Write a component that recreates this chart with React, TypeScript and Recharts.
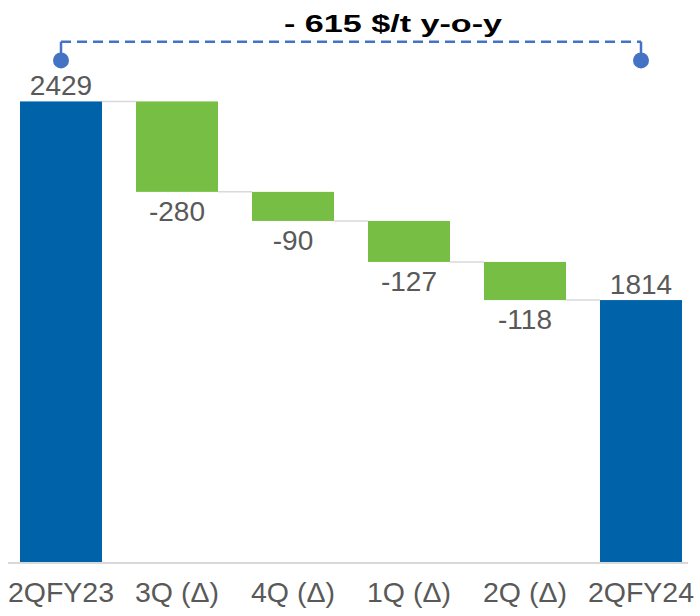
import React from 'react';
import { ComposedChart, Bar, XAxis, YAxis, Cell, LabelList, ReferenceLine, ReferenceDot } from 'recharts';

const categories = ['2QFY23', '3Q (Δ)', '4Q (Δ)', '1Q (Δ)', '2Q (Δ)', '2QFY24'];
const values = [2429, -280, -90, -127, -118, 1814];
const kinds = ['total', 'delta', 'delta', 'delta', 'delta', 'total'];
const titleText = '- 615 $/t y-o-y';

const AXIS_MIN = 1000;
const AXIS_MAX = 2743;
const BRACKET_Y = 2614;
const DOT_Y = 2556;

const BLUE = '#0062A8';
const GREEN = '#77BF44';
const TEXT = '#595959';
const FONT = '"Liberation Sans", Arial, sans-serif';
const GAP_RATIO = 0.1466;

type Row = { name: string; range: [number, number]; label: string; kind: string; end: number };

const data: Row[] = (() => {
  let running = 0;
  return categories.map((name, i) => {
    const v = values[i];
    if (kinds[i] === 'total') {
      running = v;
      return { name, range: [AXIS_MIN, v] as [number, number], label: String(v), kind: 'total', end: v };
    }
    const start = running;
    running = running + v;
    return {
      name,
      range: [Math.min(start, running), Math.max(start, running)] as [number, number],
      label: String(v),
      kind: 'delta',
      end: running,
    };
  });
})();

const BarShape = (props: any) => {
  const { x, y, width, height, index, fill } = props;
  const top = Math.min(y, y + height);
  const h = Math.abs(height);
  const row = data[index];
  const gap = (width * 2 * GAP_RATIO) / (1 - 2 * GAP_RATIO);
  let connector = null;
  if (index < data.length - 1) {
    const ly = row.kind === 'total' ? top : top + h;
    connector = (
      <line x1={x + width} x2={x + width + gap} y1={ly} y2={ly} stroke="#D9D9D9" strokeWidth={1.5} />
    );
  }
  return (
    <g>
      <rect x={x} y={top} width={width} height={h} fill={fill} />
      {connector}
    </g>
  );
};

const BarLabel = (props: any) => {
  const { x, y, width, height, index } = props;
  const row = data[index];
  const top = Math.min(y, y + height);
  const h = Math.abs(height);
  const cx = x + width / 2;
  const ty = row.kind === 'total' ? top - 6 : top + h + 29;
  return (
    <text x={cx} y={ty} textAnchor="middle" fontSize={28} fill={TEXT} fontFamily={FONT}>
      {row.label}
    </text>
  );
};

const TitleLabel = (props: any) => {
  const vb = props.viewBox || {};
  const cx = (vb.x ?? 0) + (vb.width ?? 0) / 2 + 42;
  const ty = (vb.y ?? 0) - 10;
  return (
    <text
      x={cx}
      y={ty}
      textAnchor="middle"
      fontSize={24}
      fontWeight="bold"
      fill="#000000"
      fontFamily={FONT}
      textLength={218}
      lengthAdjust="spacingAndGlyphs"
    >
      {titleText}
    </text>
  );
};

export default function App() {
  const first = categories[0];
  const last = categories[categories.length - 1];
  return (
    <div style={{ position: 'absolute', left: 0, top: 0, width: 700, height: 616, background: '#fff' }}>
      <ComposedChart
        width={700}
        height={616}
        data={data}
        margin={{ top: 0, right: 12, bottom: 0, left: 8 }}
        barCategoryGap="14.66%"
      >
        <XAxis
          dataKey="name"
          interval={0}
          tickLine={false}
          axisLine={{ stroke: '#D9D9D9', strokeWidth: 2 }}
          tick={{ fontSize: 28.5, fill: TEXT, fontFamily: FONT }}
          tickMargin={13}
          height={53}
          padding={{ left: -5, right: -11 }}
        />
        <YAxis hide type="number" domain={[AXIS_MIN, AXIS_MAX]} />
        <ReferenceLine
          segment={[{ x: first, y: BRACKET_Y }, { x: last, y: BRACKET_Y }]}
          stroke="#4472C4"
          strokeWidth={2.5}
          strokeDasharray="10 6"
          label={<TitleLabel />}
        />
        <ReferenceLine segment={[{ x: first, y: BRACKET_Y }, { x: first, y: DOT_Y }]} stroke="#4472C4" strokeWidth={2.5} />
        <ReferenceLine segment={[{ x: last, y: BRACKET_Y }, { x: last, y: DOT_Y }]} stroke="#4472C4" strokeWidth={2.5} />
        <ReferenceDot x={first} y={DOT_Y} r={8} fill="#4472C4" stroke="none" />
        <ReferenceDot x={last} y={DOT_Y} r={8} fill="#4472C4" stroke="none" />
        <Bar dataKey="range" isAnimationActive={false} shape={<BarShape />}>
          {data.map((d, i) => (
            <Cell key={i} fill={d.kind === 'total' ? BLUE : GREEN} />
          ))}
          <LabelList dataKey="label" content={<BarLabel />} />
        </Bar>
      </ComposedChart>
    </div>
  );
}
